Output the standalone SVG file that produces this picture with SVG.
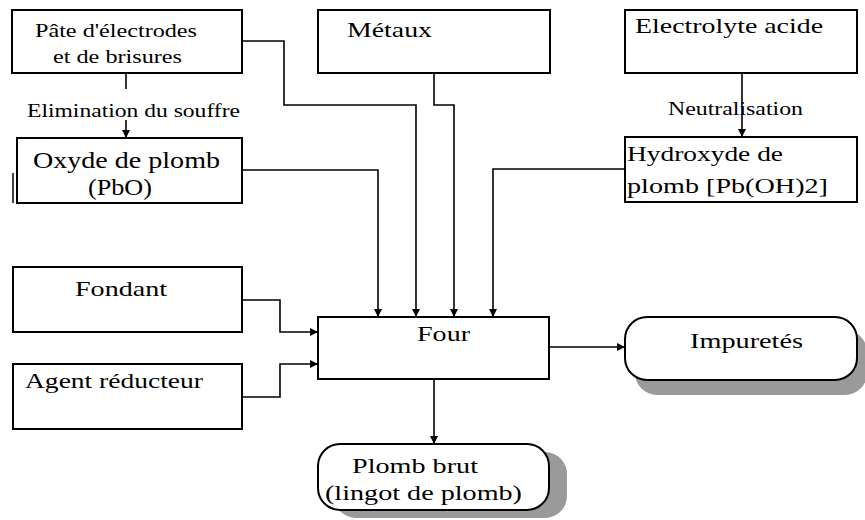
<svg xmlns="http://www.w3.org/2000/svg" width="865" height="520" viewBox="0 0 865 520">
<defs>
<marker id="ah" viewBox="0 0 10 10" refX="10" refY="5" markerWidth="8" markerHeight="8" markerUnits="userSpaceOnUse" orient="auto">
<path d="M0,0 L10,5 L0,10 Z" fill="#000"/>
</marker>
<style>
.box{fill:#fff;stroke:#000;stroke-width:2}
.shadow{fill:#9a9a9a;stroke:none}
.c{fill:none;stroke:#000;stroke-width:1.6}
.a{marker-end:url(#ah)}
</style>
</defs>
<rect width="865" height="520" fill="#fff"/>

<g id="connectors">
<polyline class="c a" points="242,41 284,41 284,105 416,105 416,317"/>
<polyline class="c a" points="434,73 434,105 454,105 454,317"/>
<polyline class="c a" points="242,170 378,170 378,317"/>
<polyline class="c a" points="625,169 493,169 493,317"/>
<polyline class="c" points="126,73 126,89"/>
<line class="c a" x1="126" y1="120" x2="126" y2="138"/>
<polyline class="c a" points="742,73 742,137"/>
<polyline class="c a" points="242,300 280,300 280,332 318,332"/>
<polyline class="c a" points="242,397 280,397 280,364 318,364"/>
<polyline class="c a" points="549,347 625,347"/>
<polyline class="c a" points="434,379 434,444"/>
<g font-family="'Liberation Serif', 'Times New Roman', Times, serif" font-size="19">
<text x="27" y="117" textLength="213" lengthAdjust="spacingAndGlyphs">Elimination du souffre</text>
<text x="668" y="115" textLength="135" lengthAdjust="spacingAndGlyphs">Neutralisation</text>
</g>
</g>

<g font-family="'Liberation Serif', 'Times New Roman', Times, serif" fill="#000">
<g id="pate">
<rect class="box" x="12" y="10" width="230" height="63"/>
<text x="35" y="37" font-size="18" textLength="162" lengthAdjust="spacingAndGlyphs">Pâte d'électrodes</text>
<text x="53" y="63" font-size="18" textLength="129" lengthAdjust="spacingAndGlyphs">et de brisures</text>
</g>

<g id="metaux">
<rect class="box" x="318" y="10" width="232" height="63"/>
<text x="347" y="37" font-size="21" textLength="85" lengthAdjust="spacingAndGlyphs">Métaux</text>
</g>

<g id="electrolyte">
<rect class="box" x="625" y="10" width="232" height="63"/>
<text x="635" y="33" font-size="21" textLength="188" lengthAdjust="spacingAndGlyphs">Electrolyte acide</text>
</g>

<g id="oxyde">
<rect class="box" x="17" y="138" width="225" height="65"/>
<line x1="13" y1="173" x2="13" y2="203" stroke="#000" stroke-width="1.5"/>
<text x="33" y="168" font-size="23" textLength="187" lengthAdjust="spacingAndGlyphs">Oxyde de plomb</text>
<text x="88" y="195" font-size="23" textLength="64" lengthAdjust="spacingAndGlyphs">(PbO)</text>
</g>

<g id="hydroxyde">
<rect class="box" x="625" y="137" width="232" height="65"/>
<text x="627" y="161" font-size="22" textLength="156" lengthAdjust="spacingAndGlyphs">Hydroxyde de</text>
<text x="627" y="193" font-size="22" textLength="201" lengthAdjust="spacingAndGlyphs">plomb [Pb(OH)2]</text>
</g>

<g id="fondant">
<rect class="box" x="13" y="267" width="229" height="65"/>
<text x="75" y="296" font-size="22" textLength="92" lengthAdjust="spacingAndGlyphs">Fondant</text>
</g>

<g id="agent">
<rect class="box" x="13" y="364" width="229" height="65"/>
<text x="25" y="388" font-size="22" textLength="178" lengthAdjust="spacingAndGlyphs">Agent réducteur</text>
</g>

<g id="four">
<rect class="box" x="318" y="317" width="231" height="62"/>
<text x="417" y="341" font-size="22" textLength="53" lengthAdjust="spacingAndGlyphs">Four</text>
</g>

<g id="impuretes">
<rect class="shadow" x="635" y="330" width="232" height="65" rx="22"/>
<rect class="box" x="625" y="317" width="232" height="63" rx="22"/>
<text x="690" y="348" font-size="22" textLength="113" lengthAdjust="spacingAndGlyphs">Impuretés</text>
</g>

<g id="plomb">
<rect class="shadow" x="334" y="452" width="233" height="66" rx="22"/>
<rect class="box" x="318" y="444" width="231" height="66" rx="22"/>
<text x="352" y="473" font-size="22" textLength="126" lengthAdjust="spacingAndGlyphs">Plomb brut</text>
<text x="325" y="500" font-size="22" textLength="197" lengthAdjust="spacingAndGlyphs">(lingot de plomb)</text>
</g>
</g>
</svg>
